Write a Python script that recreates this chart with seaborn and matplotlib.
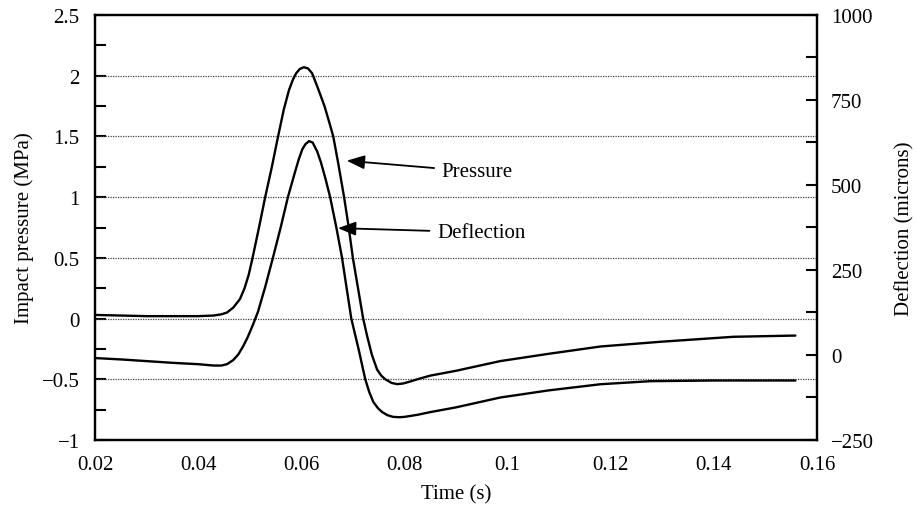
import matplotlib
matplotlib.use("Agg")
import matplotlib.pyplot as plt
from matplotlib.ticker import MultipleLocator
import seaborn as sns
import pandas as pd

# ---- data ----
time_pressure = [0.020, 0.025, 0.030, 0.035, 0.040, 0.043, 0.0445, 0.0456, 0.0468, 0.0481,
                 0.0490, 0.0498, 0.0505, 0.0518, 0.0530, 0.0543, 0.0555, 0.0566, 0.0576,
                 0.0584, 0.0590, 0.0597, 0.0605, 0.0613, 0.0621, 0.0632, 0.0645, 0.0654,
                 0.0662, 0.0672, 0.0683, 0.0692, 0.0700, 0.0710, 0.0720, 0.0728, 0.0737,
                 0.0747, 0.0755, 0.0763, 0.0775, 0.0786, 0.0797, 0.0810, 0.0825, 0.0850,
                 0.0900, 0.0986, 0.108, 0.118, 0.130, 0.1438, 0.1558]
pressure_mpa = [0.03, 0.025, 0.02, 0.02, 0.02, 0.025, 0.035, 0.05, 0.09, 0.16,
                0.25, 0.36, 0.49, 0.75, 1.0, 1.25, 1.5, 1.72, 1.88,
                1.97, 2.02, 2.055, 2.07, 2.06, 2.02, 1.9, 1.75, 1.62,
                1.5, 1.27, 1.0, 0.75, 0.5, 0.25, 0.0, -0.15, -0.3,
                -0.42, -0.47, -0.5, -0.53, -0.54, -0.535, -0.52, -0.5, -0.47,
                -0.43, -0.35, -0.29, -0.23, -0.19, -0.15, -0.14]

time_deflection = [0.020, 0.025, 0.030, 0.035, 0.040, 0.043, 0.0445, 0.0456, 0.0468, 0.0478,
                   0.0487, 0.0496, 0.0506, 0.0516, 0.0530, 0.0545, 0.0560, 0.0574, 0.0588,
                   0.0595, 0.0602, 0.0608, 0.0615, 0.0622, 0.0631, 0.0638, 0.0647, 0.0656,
                   0.0668, 0.0679, 0.0688, 0.0697, 0.0711, 0.0724, 0.0732, 0.0740, 0.0749,
                   0.0757, 0.0767, 0.0778, 0.0790, 0.0800, 0.0825, 0.0850, 0.0900, 0.0986,
                   0.108, 0.118, 0.1277, 0.140, 0.1558]
deflection_um = [-9, -13, -18, -23, -27, -31, -31, -27, -15, 2,
                 25, 52, 88, 127, 200, 286, 375, 464, 539,
                 575, 605, 620, 629, 625, 598, 567, 518, 464,
                 375, 286, 196, 107, 18, -71, -110, -139, -157,
                 -168, -177, -182, -183, -182, -176, -168, -154, -125,
                 -104, -86, -77, -75, -75]

x_ticks = [0.02, 0.04, 0.06, 0.08, 0.10, 0.12, 0.14, 0.16]
x_labels = ["0.02", "0.04", "0.06", "0.08", "0.1", "0.12", "0.14", "0.16"]
left_ticks = [-1, -0.5, 0, 0.5, 1, 1.5, 2, 2.5]
left_labels = ["\u22121", "\u22120.5", "0", "0.5", "1", "1.5", "2", "2.5"]
right_ticks = [-250, 0, 250, 500, 750, 1000]
right_labels = ["\u2212250", "0", "250", "500", "750", "1000"]

df_p = pd.DataFrame({"t": time_pressure, "p": pressure_mpa})
df_d = pd.DataFrame({"t": time_deflection, "d": deflection_um})

sns.set_theme(style="white")
plt.rcParams["font.family"] = ["Liberation Serif", "DejaVu Serif"]
plt.rcParams["text.color"] = "black"
plt.rcParams["axes.labelcolor"] = "black"

fig = plt.figure(figsize=(9.16, 5.06), dpi=100)
ax = fig.add_axes([95 / 916, 1 - 441 / 506, (817 - 95) / 916, (441 - 16) / 506])
ax2 = ax.twinx()

sns.lineplot(data=df_p, x="t", y="p", ax=ax, color="black", linewidth=1.7,
             estimator=None, sort=False, zorder=3)
sns.lineplot(data=df_d, x="t", y="d", ax=ax2, color="black", linewidth=1.7,
             estimator=None, sort=False, zorder=3)

ax.set_xlim(0.02, 0.16)
ax.set_ylim(-1, 2.5)
ax2.set_ylim(-250, 1000)

ax.set_xticks(x_ticks)
ax.set_xticklabels(x_labels)
ax.set_yticks(left_ticks)
ax.set_yticklabels(left_labels)
ax.yaxis.set_minor_locator(MultipleLocator(0.25))
ax2.set_yticks(right_ticks)
ax2.set_yticklabels(right_labels)
ax2.yaxis.set_minor_locator(MultipleLocator(125))

ax.grid(False)
ax2.grid(False)
for yv in [-0.5, 0, 0.5, 1, 1.5, 2]:
    ax.axhline(yv, color="0.25", linestyle=(0, (1, 1)), linewidth=0.9, zorder=1)

ax.tick_params(axis="x", length=0, pad=11, labelsize=15, colors="black")
ax.tick_params(axis="y", which="both", direction="in", length=8, width=1.5,
               left=True, right=False, pad=11, labelsize=15, colors="black")
ax2.tick_params(axis="y", which="both", direction="in", length=8, width=1.5,
                left=False, right=True, pad=10, labelsize=15, colors="black")

for a in (ax, ax2):
    for s in a.spines.values():
        s.set_linewidth(1.6)
        s.set_color("black")

ax.set_xlabel("Time (s)", fontsize=15, labelpad=7)
ax.set_ylabel("Impact pressure (MPa)", fontsize=15, labelpad=5.5)
ax2.set_ylabel("Deflection (microns)", fontsize=15, labelpad=15.5)

arrow = dict(arrowstyle="-|>,head_length=0.9,head_width=0.35", color="black",
             lw=1.3, shrinkA=3, shrinkB=0, mutation_scale=12)
ax.annotate("Pressure", xy=(0.0688, 1.30), xytext=(0.0872, 1.21),
            ha="left", va="center", fontsize=15, arrowprops=arrow)
ax.annotate("Deflection", xy=(0.0671, 0.745), xytext=(0.0863, 0.71),
            ha="left", va="center", fontsize=15, arrowprops=arrow)

fig.savefig("out.png", dpi=100)
